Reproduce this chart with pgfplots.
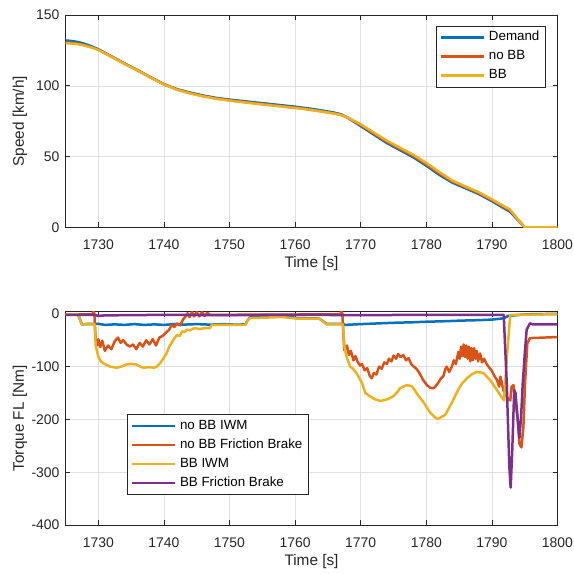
\documentclass[border=0pt]{standalone}
\usepackage{fontspec}
\setmainfont{Liberation Sans}
\usepackage{pgfplots}
\pgfplotsset{compat=1.18}
\definecolor{mblue}{rgb}{0,0.447,0.741}
\definecolor{morange}{rgb}{0.85,0.325,0.098}
\definecolor{myellow}{rgb}{0.929,0.694,0.125}
\definecolor{mpurple}{rgb}{0.494,0.184,0.556}
\definecolor{tgray}{rgb}{0.15,0.15,0.15}
\definecolor{ggray}{rgb}{0.88,0.88,0.88}
\pgfplotsset{
  mystyle/.style={
    scale only axis, width=492bp,
    xmin=1725, xmax=1800, xtick={1730,1740,...,1800},
    grid=major, major grid style={ggray, line width=0.5bp},
    axis line style={tgray, line width=0.7bp},
    tick style={tgray, line width=0.7bp}, major tick length=5bp,
    /pgf/number format/assume math mode=true,
    /pgf/number format/1000 sep={},
    tick label style={font=\fontsize{14}{16}\selectfont, text=tgray},
    xticklabel style={anchor=base, yshift=-22.5bp},
    yticklabel style={anchor=east, xshift=-2.5bp},
    label style={font=\fontsize{15.4}{17}\selectfont, text=tgray},
    xlabel={Time [s]},
    xlabel style={at={(axis description cs:0.5,-0.170)}, anchor=center},
    ylabel style={at={(axis description cs:-0.0925,0.5)}, anchor=center, rotate=0},
    every axis plot/.append style={line width=2.5bp, line join=round},
    legend image code/.code={\draw[#1, line width=2.5bp] (0bp,0bp) -- (43bp,0bp);},
    legend cell align=left,
  },
  mylegend/.style={
    draw=tgray, line width=0.6bp, fill=white, text=black,
    font=\fontsize{13.4}{15}\selectfont,
    inner xsep=4bp, inner ysep=2bp, row sep=0bp, column sep=2bp,
    nodes={inner sep=1.5bp, text height=11.5bp, text depth=4.5bp},
  },
}
\begin{document}
\begin{tikzpicture}
\useasboundingbox (0,0) rectangle (574bp,574bp);
\begin{axis}[mystyle, at={(65.5bp,346.7bp)}, anchor=south west,
  height=212.3bp, ymin=0, ymax=150, ytick={0,50,100,150},
  ylabel={Speed [km/h]},
  legend style={mylegend, at={(axis description cs:0.975,0.950)}, anchor=north east}]
\addplot[mblue] coordinates {
(1725,132) (1726,131.6) (1727,130.8) (1728,129.5) (1729,127.8) (1730,125.8)
(1732,120.8) (1734,115.8) (1736,111) (1738,106) (1740,101.2) (1742,97.6)
(1744,95.2) (1746,93.1) (1748,91.4) (1750,90.2) (1752,89.2) (1754,88.2)
(1756,87.2) (1758,86.2) (1760,85.2) (1762,84) (1764,82.6) (1766,81)
(1767,79.8) (1768,77.5) (1770,71.5) (1772,65.5) (1774,59.5) (1776,54.5)
(1778,49.5) (1780,43.5) (1782,37) (1784,31.5) (1786,27.5) (1788,23.5)
(1790,18.5) (1792,13) (1792.7,11.2) (1794,5) (1795,0) (1800,0)};
\addlegendentry{Demand}
\addplot[morange] coordinates {
(1725,130.6) (1726,130.3) (1727,129.7) (1728,128.6) (1729,127.2) (1730,125.5)
(1732,120.6) (1734,115.6) (1736,110.8) (1738,105.8) (1740,101) (1742,97.3)
(1744,94.8) (1746,92.7) (1748,91) (1750,89.8) (1752,88.7) (1754,87.6)
(1756,86.6) (1758,85.6) (1760,84.6) (1762,83.4) (1764,82) (1766,80.5)
(1767,79.4) (1768,77.5) (1770,72.2) (1772,66.3) (1774,60.4) (1776,55.4)
(1778,50.5) (1780,44.5) (1782,38) (1784,32.3) (1786,28.2) (1788,24.2)
(1790,19.2) (1792,13.8) (1792.7,12.2) (1794,5.3) (1795,0) (1800,0)};
\addlegendentry{no BB}
\addplot[myellow] coordinates {
(1725,130) (1726,129.8) (1727,129.3) (1728,128.3) (1729,127) (1730,125.3)
(1732,120.5) (1734,115.5) (1736,110.8) (1738,105.8) (1740,101) (1742,97.2)
(1744,94.6) (1746,92.5) (1748,90.8) (1750,89.5) (1752,88.4) (1754,87.3)
(1756,86.3) (1758,85.3) (1760,84.3) (1762,83.2) (1764,81.8) (1766,80.3)
(1767,79.3) (1768,77.6) (1770,72.8) (1772,67) (1774,61.2) (1776,56.2)
(1778,51.3) (1780,45.5) (1782,39) (1784,33) (1786,28.8) (1788,24.8)
(1790,19.8) (1792,14.5) (1792.7,12.8) (1794,5.5) (1795,0) (1800,0)};
\addlegendentry{BB}
\end{axis}
\begin{axis}[mystyle, at={(65.5bp,48.9bp)}, anchor=south west,
  height=213.4bp, ymin=-400, ymax=4, ytick={-400,-300,-200,-100,0},
  ylabel={Torque FL [Nm]},
  legend style={mylegend, at={(axis description cs:0.1244,0.519)}, anchor=north west}]
\addplot[mblue] coordinates {
(1725,-1) (1726.9,-1) (1727.5,-20) (1728.5,-19) (1730,-19) (1731,-21) (1732.5,-20)
(1734,-21) (1735.5,-19.5) (1737,-21) (1738.5,-20) (1740,-21) (1741.5,-19.5)
(1743,-20.5) (1745,-19.5) (1747,-20.5) (1749,-19.5) (1751,-20.5) (1752.4,-20)
(1752.8,-12) (1753.1,-7) (1756,-6) (1757,-4) (1758.5,-4) (1760.2,-8)
(1763.7,-9) (1764.8,-19) (1767.3,-19) (1767.6,-21) (1770,-19.5) (1772,-18.5)
(1775,-17) (1778,-16) (1780,-15) (1783,-14) (1785,-13) (1788,-12)
(1790,-11) (1791.5,-9) (1791.9,-8) (1792.5,-4) (1795,-1) (1800,0)};
\addlegendentry{no BB IWM}
\addplot[morange] coordinates {
(1725,-1) (1729.1,-1) (1729.25,6) (1729.4,0) (1729.6,-50) (1729.8,-60)
(1730.0,-48) (1730.3,-63) (1730.6,-51) (1731.0,-70) (1731.5,-60) (1732.0,-67)
(1732.5,-52) (1733.0,-45) (1733.4,-55) (1733.8,-50) (1734.3,-58) (1734.8,-62)
(1735.3,-58) (1735.8,-67) (1736.3,-55) (1736.8,-62) (1737.3,-50) (1737.8,-58)
(1738.3,-48) (1738.8,-60) (1739.3,-45) (1739.8,-42) (1740.3,-36) (1740.8,-30)
(1741.2,-21) (1741.6,-25) (1742.0,-18) (1742.5,-22) (1742.9,-11) (1743.3,-5)
(1743.6,1) (1743.9,-6) (1744.3,3) (1744.6,-5) (1745.0,3) (1745.4,-5)
(1745.8,3) (1746.2,-4) (1746.6,2) (1747.0,-2) (1766.9,-1) (1767.05,6)
(1767.2,0) (1767.5,-69) (1767.9,-60) (1768.2,-78) (1768.5,-70) (1768.9,-88)
(1769.2,-80) (1769.5,-90) (1769.9,-98) (1770.2,-95) (1770.6,-107) (1771.0,-103)
(1771.4,-118) (1771.7,-122) (1772.0,-112) (1772.4,-115) (1772.8,-100) (1773.2,-104)
(1773.6,-92) (1774.0,-95) (1774.3,-85) (1774.7,-90) (1775.0,-79) (1775.4,-85)
(1775.7,-76) (1776.1,-82) (1776.5,-78) (1776.9,-88) (1777.3,-84) (1777.7,-95)
(1778.1,-100) (1778.5,-104) (1779.0,-113) (1779.5,-125) (1780.1,-135) (1780.6,-140)
(1781.1,-141) (1781.5,-136) (1781.8,-131) (1782.2,-123) (1782.6,-118) (1782.9,-105)
(1783.1,-100) (1783.5,-110) (1783.9,-100) (1784.2,-88) (1784.5,-95) (1784.9,-72)
(1785.1,-85) (1785.3,-62) (1785.5,-80) (1785.7,-58) (1785.9,-82) (1786.1,-60)
(1786.3,-85) (1786.5,-62) (1786.7,-90) (1786.9,-65) (1787.1,-88) (1787.3,-65)
(1787.5,-85) (1787.7,-70) (1787.9,-90) (1788.2,-75) (1788.5,-92) (1788.8,-85)
(1789.2,-95) (1789.6,-102) (1790.0,-108) (1790.4,-118) (1790.8,-126) (1791.1,-138)
(1791.3,-119) (1791.5,-130) (1791.75,-145) (1792.0,-150) (1792.4,-160) (1792.8,-164)
(1793.0,-138) (1793.3,-135) (1793.5,-157) (1793.9,-195) (1794.2,-246) (1794.5,-253)
(1794.8,-215) (1795.05,-132) (1795.4,-56) (1795.8,-46) (1800,-44)};
\addlegendentry{no BB Friction Brake}
\addplot[myellow] coordinates {
(1725,-1) (1726.9,-1) (1727.5,-20) (1729.45,-20) (1729.6,-60) (1730.0,-81)
(1730.4,-90) (1730.8,-94) (1731.8,-100) (1732.8,-102) (1733.5,-100) (1734.3,-96)
(1735.0,-95) (1735.8,-96) (1736.4,-100) (1736.9,-102) (1737.8,-101) (1738.5,-102)
(1738.9,-100) (1739.4,-94) (1739.9,-85) (1740.4,-75) (1740.9,-60) (1741.2,-55)
(1741.5,-48) (1742.0,-40) (1742.4,-42) (1742.8,-33) (1743.1,-35) (1743.5,-30)
(1744.0,-31) (1744.7,-27) (1745.5,-29) (1746.2,-27) (1747.0,-27) (1747.3,-21)
(1752.4,-21) (1752.8,-12) (1753.1,-8) (1756,-7) (1758,-6) (1760.2,-9)
(1763.7,-9) (1764.8,-20) (1767.3,-20) (1767.5,-60) (1767.8,-80) (1768.4,-100)
(1768.9,-105) (1769.4,-113) (1770.2,-131) (1770.7,-150) (1771.4,-156) (1772.2,-162)
(1773.0,-165) (1774.0,-162) (1775.0,-156) (1775.6,-148) (1776.0,-141) (1777.0,-135)
(1777.8,-137) (1778.5,-150) (1779.6,-168) (1780.6,-187) (1781.3,-196) (1781.8,-199)
(1782.9,-191) (1783.9,-168) (1784.9,-143) (1785.5,-131) (1786.2,-122) (1787.0,-114)
(1787.7,-110) (1788.7,-112) (1789.7,-125) (1790.7,-143) (1791.5,-158) (1791.85,-164)
(1792.3,-80) (1792.8,-2) (1800,-1)};
\addlegendentry{BB IWM}
\addplot[mpurple] coordinates {
(1725,-2) (1729.5,-2) (1730,-4) (1731,-3) (1735,-2.5) (1740,-2) (1750,-2.5)
(1760,-2) (1770,-2.5) (1780,-2) (1791.8,-2) (1792.25,-127) (1792.66,-290)
(1792.86,-329) (1793.1,-260) (1793.4,-145) (1793.6,-150) (1793.9,-195)
(1794.2,-235) (1794.45,-195) (1794.7,-132) (1795.05,-69) (1795.3,-30)
(1795.8,-18) (1796.2,-20) (1800,-20)};
\addlegendentry{BB Friction Brake}
\end{axis}
\end{tikzpicture}
\end{document}
